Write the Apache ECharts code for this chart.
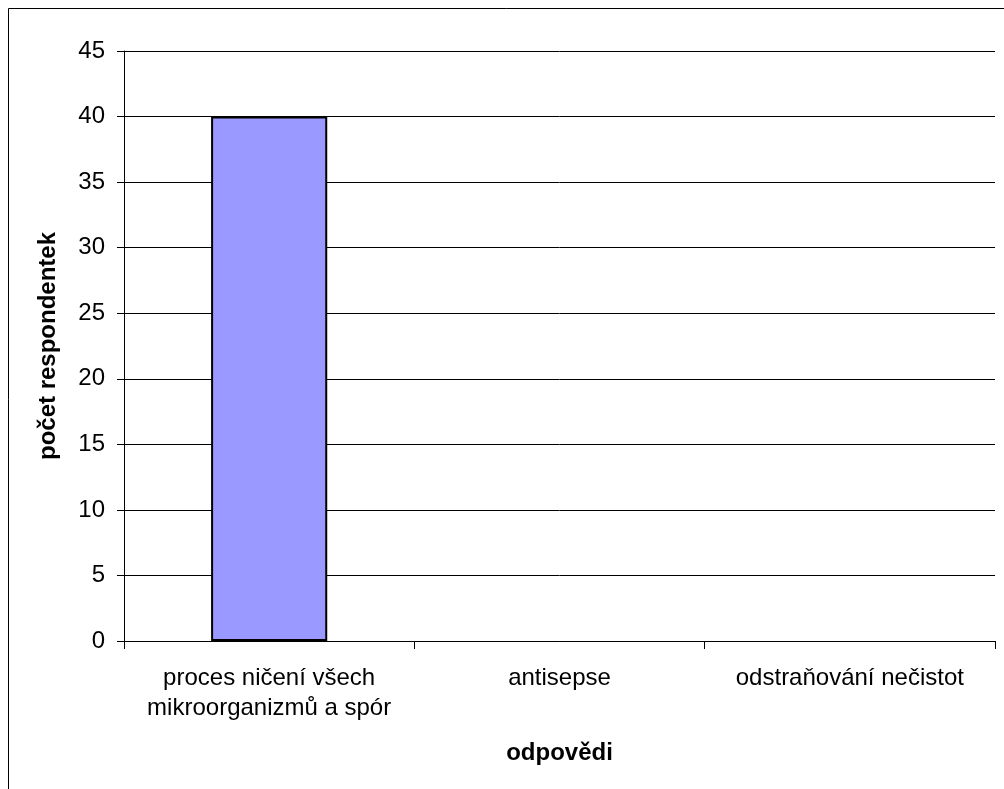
<!DOCTYPE html>
<html>
<head>
<meta charset="utf-8">
<script src="https://cdn.jsdelivr.net/npm/echarts@6/dist/echarts.min.js"></script>
<style>
html,body{margin:0;padding:0;background:#fff;}
#c{width:1004px;height:789px;}
</style>
</head>
<body>
<div id="c"></div>
<script>
const categories = ["proces ničení všech\nmikroorganizmů a spór", "antisepse", "odstraňování nečistot"];
const values = [40, 0, 0];
const yTicks = [0, 5, 10, 15, 20, 25, 30, 35, 40, 45];
const xName = "odpovědi";
const yName = "počet respondentek";

const chart = echarts.init(document.getElementById('c'), null, {renderer: 'canvas'});
const font = 'Liberation Sans, Arial, sans-serif';
chart.setOption({
  animation: false,
  backgroundColor: '#fff',
  textStyle: {fontFamily: font},
  graphic: [{
    type: 'rect',
    shape: {x: 8.5, y: 8.5, width: 1100, height: 900},
    style: {fill: 'none', stroke: '#000', lineWidth: 1},
    silent: true, z: 100
  }],
  grid: {left: 124, top: 51, right: 9, bottom: 148, containLabel: false},
  xAxis: {
    type: 'category',
    data: categories,
    boundaryGap: true,
    name: xName,
    nameLocation: 'middle',
    nameGap: 100,
    nameTextStyle: {fontSize: 24, fontWeight: 'bold', color: '#000', fontFamily: font},
    axisLine: {show: true, lineStyle: {color: '#000', width: 1}},
    axisTick: {show: true, length: 8, alignWithLabel: false, lineStyle: {color: '#000'}},
    axisLabel: {fontSize: 24, color: '#000', lineHeight: 30, margin: 22, interval: 0, fontFamily: font},
    splitLine: {show: false}
  },
  yAxis: {
    type: 'value',
    min: 0, max: 45, interval: 5,
    name: yName,
    nameLocation: 'middle',
    nameGap: 64,
    nameRotate: 90,
    nameTextStyle: {fontSize: 24, fontWeight: 'bold', color: '#000', fontFamily: font},
    axisLine: {show: true, lineStyle: {color: '#000', width: 1}},
    axisTick: {show: true, length: 7, lineStyle: {color: '#000'}},
    axisLabel: {fontSize: 24, color: '#000', margin: 19, fontFamily: font,
      formatter: v => yTicks.includes(v) ? String(v) : ''},
    splitLine: {show: true, lineStyle: {color: '#000', width: 1}}
  },
  series: [{
    type: 'bar',
    data: values.map(v => v === 0 ? {value: v, itemStyle: {borderWidth: 0}} : v),
    barWidth: '40%',
    itemStyle: {color: '#9999FF', borderColor: '#000', borderWidth: 2}
  }]
});
</script>
</body>
</html>
